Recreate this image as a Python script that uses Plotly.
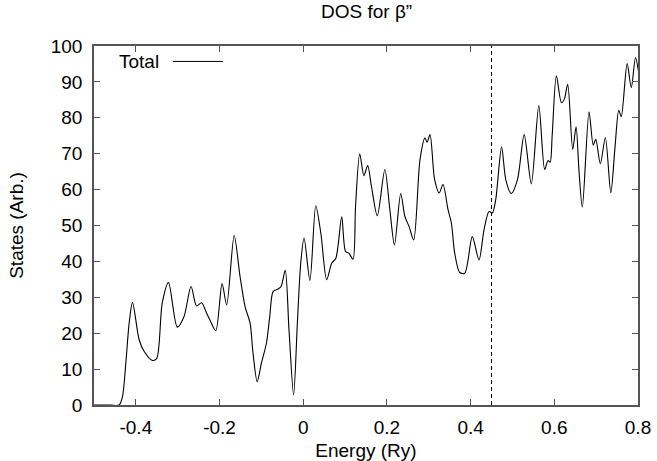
import plotly.graph_objects as go

energy = [-0.50, -0.46, -0.440, -0.432, -0.424, -0.416, -0.408, -0.392, -0.380, -0.360, -0.350,
          -0.337, -0.322, -0.301, -0.285, -0.268, -0.255, -0.243, -0.231, -0.223, -0.209,
          -0.194, -0.183, -0.165, -0.151, -0.139, -0.127, -0.120, -0.110, -0.100, -0.088,
          -0.080, -0.072, -0.060, -0.053, -0.043, -0.034, -0.023, -0.014, -0.006, 0.002,
          0.016, 0.030, 0.042, 0.056, 0.068, 0.078, 0.092, 0.101, 0.109, 0.119, 0.125,
          0.135, 0.145, 0.154, 0.163, 0.177, 0.195, 0.207, 0.218, 0.233, 0.243, 0.253,
          0.264, 0.279, 0.291, 0.296, 0.303, 0.314, 0.325, 0.334, 0.346, 0.354, 0.362,
          0.374, 0.386, 0.404, 0.420, 0.432, 0.444, 0.452, 0.460, 0.474, 0.484, 0.497,
          0.512, 0.528, 0.545, 0.563, 0.577, 0.585, 0.590, 0.595, 0.605, 0.617, 0.624,
          0.632, 0.644, 0.652, 0.659, 0.667, 0.683, 0.693, 0.699, 0.710, 0.722, 0.735,
          0.745, 0.754, 0.760, 0.774, 0.784, 0.794, 0.801]
states = [0.0, 0.0, 0.0, 2.3, 11.6, 22.8, 28.6, 18.1, 14.9, 12.4, 13.0,
          28.4, 34.1, 21.7, 24.6, 33.0, 27.6, 28.5, 25.6, 23.7, 20.7,
          33.8, 27.9, 47.2, 35.8, 27.4, 22.8, 14.4, 6.5, 11.6, 17.2,
          24.6, 31.6, 32.3, 33.0, 37.5, 20.9, 2.8, 22.8, 39.5, 46.5,
          34.7, 55.5, 47.9, 34.9, 39.5, 40.9, 52.4, 42.8, 42.3, 40.6, 55.3,
          70.0, 63.9, 66.7, 60.9, 52.7, 65.6, 54.4, 44.6, 58.9, 52.5, 49.7,
          46.0, 68.3, 74.4, 73.2, 75.3, 62.8, 59.1, 61.4, 54.4, 50.7, 42.3,
          36.9, 36.7, 46.9, 40.4, 48.8, 53.9, 53.5, 57.2, 71.9, 62.8, 58.9,
          62.8, 75.3, 61.6, 83.4, 65.6, 68.1, 67.6, 75.3, 91.7, 84.2, 85.2,
          89.3, 71.2, 77.5, 65.2, 55.1, 81.7, 72.4, 74.0, 67.2, 74.5, 59.1,
          71.7, 82.1, 80.3, 95.1, 88.4, 96.8, 93.1]

FERMI = 0.45
x_ticks = [-0.4, -0.2, 0, 0.2, 0.4, 0.6, 0.8]
x_labels = ["-0.4", "-0.2", "0", "0.2", "0.4", "0.6", "0.8"]
y_ticks = list(range(0, 101, 10))

font = "Liberation Sans, Arial, sans-serif"
fs = 19
axis_col = "#555555"

fig = go.Figure()
fig.add_trace(go.Scatter(x=energy, y=states, mode="lines",
                         line=dict(color="black", width=1.1, shape="spline", smoothing=0.8),
                         name="Total", showlegend=False))

fig.add_shape(type="line", x0=FERMI, x1=FERMI, y0=0, y1=100, xref="x", yref="y",
              line=dict(color="black", width=1, dash="4px,3px"))

# legend key
fig.add_annotation(text="Total", xref="paper", yref="paper", x=0.123, y=0.957,
                   xanchor="right", yanchor="middle", showarrow=False,
                   font=dict(family=font, size=fs, color="black"))
fig.add_shape(type="line", xref="paper", yref="paper", x0=0.145, x1=0.237, y0=0.957, y1=0.957,
              line=dict(color="black", width=1))

axis_common = dict(showgrid=False, zeroline=False, showline=True, linecolor=axis_col,
                   linewidth=1.5, mirror="ticks", ticks="inside", tickcolor=axis_col,
                   ticklen=6, tickwidth=1, automargin=False,
                   tickfont=dict(family=font, size=fs, color="black"))

fig.update_layout(
    width=657, height=461,
    margin=dict(l=94, r=19, t=46, b=56),
    plot_bgcolor="white", paper_bgcolor="white",
    title=dict(text="DOS for β”", x=0.558, xanchor="center", y=0.975, yanchor="middle",
               automargin=False, font=dict(family=font, size=fs, color="black")),
    xaxis=dict(range=[-0.5, 0.8], tickvals=x_ticks, ticktext=x_labels, ticklabelstandoff=4,
               title=dict(text="Energy (Ry)", font=dict(family=font, size=fs, color="black"),
                          standoff=8),
               **axis_common),
    yaxis=dict(range=[0, 100], tickvals=y_ticks, ticklabelstandoff=6,
               title=dict(text="States (Arb.)", font=dict(family=font, size=fs, color="black"),
                          standoff=22),
               **axis_common),
)

fig.write_html("out.html")
